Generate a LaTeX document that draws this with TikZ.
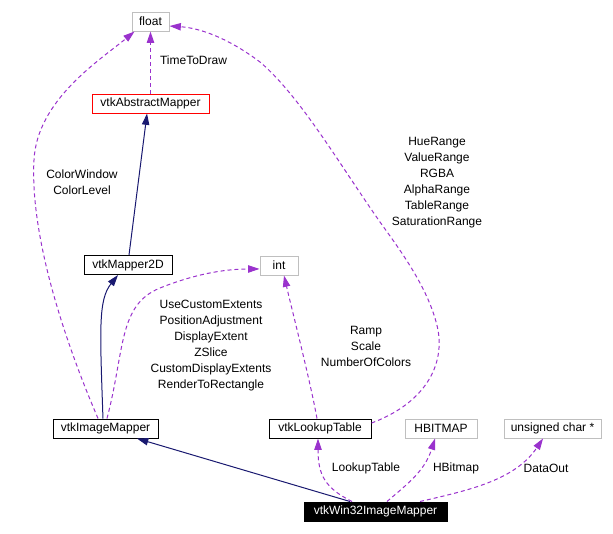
\documentclass[tikz,border=0pt]{standalone}
\usepackage{fontspec}
\setmainfont{Liberation Sans}
\usetikzlibrary{
    arrows.meta,
    calc
}
\definecolor{usecolor}{HTML}{9A32CD}
\definecolor{inhcolor}{HTML}{191970}
\definecolor{extgray}{HTML}{BFBFBF}
\tikzset{
  every node/.style={
    font=\fontsize{9}{12}\selectfont,
    inner sep=0pt
  },
  classbox/.style={
    draw=black,
    line width=0.75pt,
    minimum height=14.25pt,
    inner xsep=2pt
  },
  extbox/.style={
    classbox,
    draw=extgray
  },
  usage/.style={
    usecolor,
    line width=0.75pt,
    dash pattern=on 3pt off 2.25pt,
    -{Triangle[length=8.5pt,width=5.5pt]}
  },
  inherit/.style={
    inhcolor,
    line width=0.75pt,
    -{Triangle[length=8.5pt,width=5.5pt]}
  },
  elabel/.style={
    align=center
  }
}

\begin{document}
\begin{tikzpicture}[x=0.75pt,y=-0.75pt]
    \useasboundingbox (0,0) rectangle (613,533);

    % classes
    \node[extbox,minimum width=27.75pt] (float) at (150.5,21.5) {float};
    \node[classbox,draw=red,minimum width=87.75pt] (abs) at (150.5,103.5) {vtkAbstractMapper};
    \node[classbox,minimum width=66pt] (mapper2d) at (128,265) {vtkMapper2D};
    \node[extbox,minimum width=28.5pt] (int) at (279,265.5) {int};
    \node[classbox,minimum width=78.75pt] (imgmap) at (105.5,428.5) {vtkImageMapper};
    \node[classbox,minimum width=76.5pt] (lut) at (320,428.5) {vtkLookupTable};
    \node[extbox,minimum width=54pt] (hbitmap) at (441,428.5) {HBITMAP};
    \node[extbox,minimum width=72.75pt] (uchar) at (552.5,428.5) {unsigned char *};
    \node[classbox,fill=black,text=white,minimum width=107.25pt] (win32) at (375.5,511.5) {vtkWin32ImageMapper};

    % inheritance
    \draw[inherit] ([xshift=0.75pt]mapper2d.north) -- ([xshift=-2.6pt]abs.south);
    \draw[inherit] ([xshift=-1.9pt]imgmap.north)
        .. controls (100,330) and (98,300) .. ([xshift=-7.5pt]mapper2d.south);
    \draw[inherit] ([xshift=-19.1pt]win32.north) -- ([xshift=23.6pt]imgmap.south);

    % usage
    \draw[usage] (abs.north) -- (float.south);
    \draw[usage] ([xshift=-5.6pt]imgmap.north)
        .. controls (60,330) and (30,230) .. (34,160)
        .. controls (37,100) and (100,60) .. ([xshift=2.25pt]float.south west);
    \draw[usage] ([xshift=1.1pt]imgmap.north)
        .. controls (125,350) and (118,305) .. (160,288)
        .. controls (200,272) and (230,269) .. ([yshift=-2.6pt]int.west);
    \draw[usage] ([xshift=-2.25pt]lut.north)
        .. controls (310,380) and (292,310) .. ([xshift=3.75pt]int.south);
    \draw[usage] ([yshift=4.1pt]lut.east)
        .. controls (420,405) and (445,370) .. (438,330)
        .. controls (430,290) and (400,250) .. (380,222)
        .. controls (340,165) and (300,96) .. (260,62)
        .. controls (228,38) and (200,28) .. ([yshift=-3.4pt]float.east);
    \draw[usage] ([xshift=-17.6pt]win32.north)
        .. controls (325,488) and (318,475) .. ([xshift=-1.5pt]lut.south);
    \draw[usage] ([xshift=8.6pt]win32.north)
        .. controls (410,482) and (425,470) .. ([xshift=-4.5pt]hbitmap.south);
    \draw[usage] ([xshift=33.4pt]win32.north)
        .. controls (470,490) and (515,480) .. ([xshift=-7.1pt]uchar.south);

    % edge labels
    \node[elabel] (lbltime) at (193.5,60) {TimeToDraw};
    \node[elabel] (lblcolor) at (82,182) {ColorWindow\\ColorLevel};
    \node[elabel] (lblextent) at (211,346)
        {UseCustomExtents\\PositionAdjustment\\DisplayExtent\\ZSlice\\CustomDisplayExtents\\RenderToRectangle};
    \node[elabel] (lblrange) at (437,183)
        {HueRange\\ValueRange\\RGBA\\AlphaRange\\TableRange\\SaturationRange};
    \node[elabel] (lblramp) at (366,346) {Ramp\\Scale\\NumberOfColors};
    \node[elabel] (lbllut) at (366,468) {LookupTable};
    \node[elabel] (lblhbit) at (456,468) {HBitmap};
    \node[elabel] (lbldata) at (546,468) {DataOut};
\end{tikzpicture}
\end{document}
